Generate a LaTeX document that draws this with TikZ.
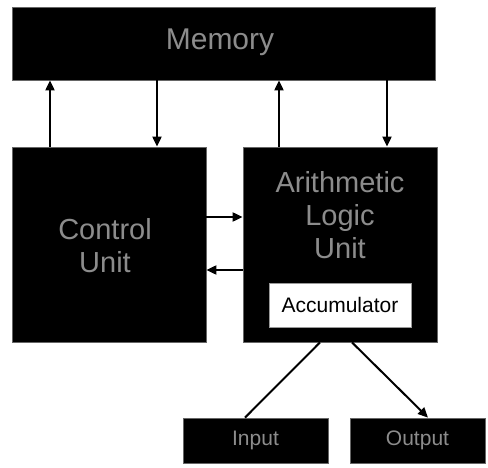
\documentclass[tikz,border=0pt]{standalone}
\usepackage{fontspec}
\setmainfont{Liberation Sans}
\usetikzlibrary{arrows.meta}
\begin{document}
\begin{tikzpicture}[x=1pt,y=-1pt,
  blk/.style={draw=black!60, line width=0.8pt, fill=black, inner sep=0pt, text=black!45},
  wire/.style={line width=2pt, draw=black},
  arr/.style={wire, -{Triangle[length=10pt,width=9pt]}}]
\useasboundingbox (0,0) rectangle (488,468);
% boxes
\node[blk, minimum width=423pt, minimum height=73pt] (mem) at (223.5,43.5) {};
\node[text=black!45, font=\fontsize{30}{33}\selectfont] (memt) at (220,42) {Memory};
\node[blk, minimum width=194pt, minimum height=195pt] (cu) at (109,244.5) {};
\node[text=black!45, align=center, font=\fontsize{29}{33}\selectfont] (cut) at (105,246) {Control\\Unit};
\node[blk, minimum width=194pt, minimum height=195pt] (alu) at (340,244.5) {};
\node[text=black!45, align=center, font=\fontsize{29}{33}\selectfont] (alut) at (340,215) {Arithmetic\\Logic\\Unit};
\node[draw=black!40, line width=0.6pt, fill=white, minimum width=142pt, minimum height=44pt, font=\fontsize{21}{24}\selectfont, text=black] (acc) at (340,305) {Accumulator};
\node[blk, minimum width=145pt, minimum height=45pt, font=\fontsize{21}{24}\selectfont] (in) at (255.5,440.5) {Input};
\node[blk, minimum width=135pt, minimum height=45pt, font=\fontsize{21}{24}\selectfont] (out) at (417.5,440.5) {Output};
% coordinates for vertical links
\coordinate (c1) at (50,0);
\coordinate (c2) at (157,0);
\coordinate (c3) at (279,0);
\coordinate (c4) at (387,0);
\coordinate (h1) at (0,217);
\coordinate (h2) at (0,270);
\coordinate (b1) at (320,0);
\coordinate (b2) at (352,0);
\coordinate (i1) at (245,0);
\coordinate (o1) at (428,0);
% memory links
\draw[arr] (cu.north -| c1) -- (mem.south -| c1);
\draw[arr] (mem.south -| c2) -- (cu.north -| c2);
\draw[arr] (alu.north -| c3) -- (mem.south -| c3);
\draw[arr] (mem.south -| c4) -- (alu.north -| c4);
% CU <-> ALU
\draw[arr] (cu.east |- h1) -- (alu.west |- h1);
\draw[arr] (alu.west |- h2) -- (cu.east |- h2);
% I/O
\draw[wire] (alu.south -| b1) -- (in.north -| i1);
\draw[arr] (alu.south -| b2) -- (out.north -| o1);
\end{tikzpicture}
\end{document}
